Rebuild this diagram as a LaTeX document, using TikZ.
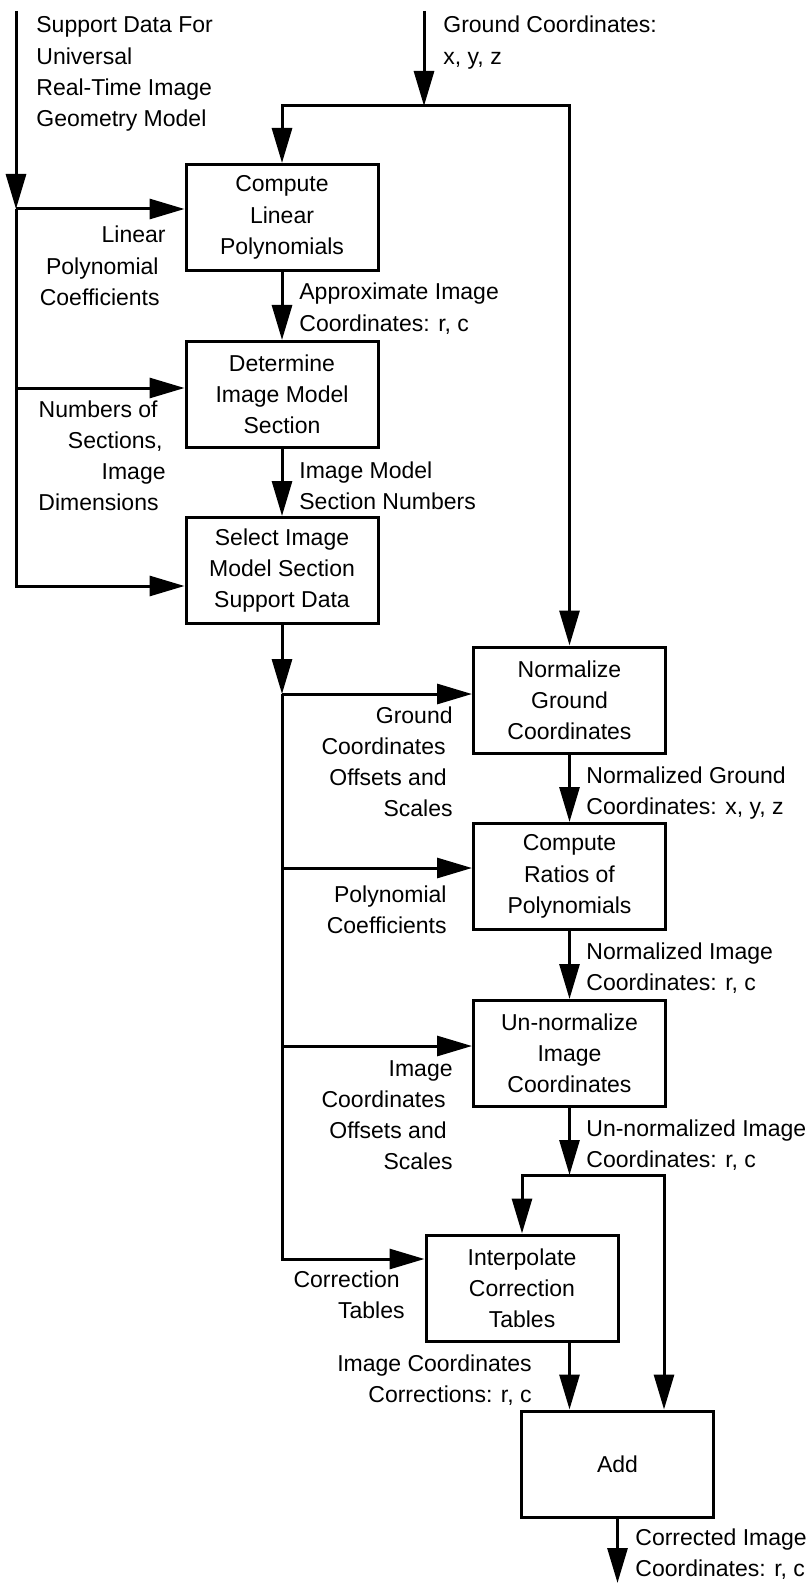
\documentclass[tikz,border=0pt]{standalone}
\usepackage{fontspec}
\setmainfont{Liberation Sans}
\usetikzlibrary{arrows.meta,calc}
\newcommand{\rlab}[1]{\begin{tabular}[t]{@{}r@{}}#1\end{tabular}}
\newcommand{\llab}[1]{\begin{tabular}[t]{@{}l@{}}#1\end{tabular}}
\begin{document}
\begin{tikzpicture}[x=0.5pt,y=-0.5pt,
  every node/.style={font=\fontsize{11.5pt}{15.6pt}\selectfont},
  proc/.style={draw, line width=1.5pt, minimum width=96pt, minimum height=53pt, align=center, inner sep=0pt},
  conn/.style={line width=1.5pt},
  arr/.style={conn, -{Triangle[length=17.5pt,width=10pt]}},
  rl/.style={anchor=base east, inner sep=0pt},
  ll/.style={anchor=base west, inner sep=0pt}]
\useasboundingbox (0,0) rectangle (812,1583);

% process boxes
\node[proc] (B1) at (282,217.5) {Compute\\Linear\\Polynomials};
\node[proc] (B2) at (282,394.5) {Determine\\Image Model\\Section};
\node[proc] (B3) at (282,570.5) {Select Image\\Model Section\\Support Data};
\node[proc] (N) at (569.5,700) {Normalize\\Ground\\Coordinates};
\node[proc] (R) at (569.5,876.5) {Compute\\Ratios of\\Polynomials};
\node[proc] (U) at (569.5,1053.5) {Un-normalize\\Image\\Coordinates};
\node[proc] (I) at (522,1288) {Interpolate\\Correction\\Tables};
\node[proc] (A) at (617.5,1464) {Add};

% junction coordinates
\coordinate (sIn) at (16,11);
\coordinate (j1) at (16,209);
\coordinate (j2) at (16,388);
\coordinate (j3) at (16,586);
\coordinate (gIn) at (424,11);
\coordinate (gJ) at (424,106);
\coordinate (gL) at (282,106);
\coordinate (gR) at (569.5,106);
\coordinate (k0) at (282,694);
\coordinate (k1) at (282,868);
\coordinate (k2) at (282,1046);
\coordinate (k3) at (282,1259);
\coordinate (m0) at (569.5,1175);
\coordinate (mL) at (522,1175);
\coordinate (mR) at (664,1175);
\coordinate (out) at (617.5,1583);

% left trunk
\draw[arr] (sIn) -- (j1);
\draw[arr] (j1) -- (j1 -| B1.west);
\draw[arr] (j2) -- (j2 -| B2.west);
\draw[arr] (j1) -- (j3) -- (j3 -| B3.west);

% ground input
\draw[arr] (gIn) -- (gJ);
\draw[arr] (gJ) -- (gL) -- (B1.north);
\draw[arr] (gJ) -- (gR) -- (N.north);

% left column chain
\draw[arr] (B1) -- (B2);
\draw[arr] (B2) -- (B3);
\draw[arr] (B3.south) -- (k0);

% second trunk
\draw[arr] (k0) -- (k0 -| N.west);
\draw[arr] (k1) -- (k1 -| R.west);
\draw[arr] (k2) -- (k2 -| U.west);
\draw[arr] (k0) -- (k3) -- (k3 -| I.west);

% right column chain
\draw[arr] (N) -- (R);
\draw[arr] (R) -- (U);
\draw[arr] (U.south) -- (m0);
\draw[arr] (m0) -- (mL) -- (I.north);
\draw[arr] (m0) -- (mR) -- (A.north -| mR);
\draw[arr] (I.south -| m0) -- (A.north -| m0);
\draw[arr] (A.south) -- (out);

% left-aligned labels
\node[ll] (tSup) at (36,33) {\llab{Support Data For\\Universal\\Real-Time Image\\Geometry Model}};
\node[ll] (tGnd) at (443,33) {\llab{Ground Coordinates:\\x, y, z}};
\node[ll] (tApx) at (299,300) {\llab{Approximate Image\\Coordinates: r, c}};
\node[ll] (tSec) at (299,478) {\llab{Image Model\\Section Numbers}};
\node[ll] (tNG) at (586,783) {\llab{Normalized Ground\\Coordinates: x, y, z}};
\node[ll] (tNI) at (586,959) {\llab{Normalized Image\\Coordinates: r, c}};
\node[ll] (tUI) at (586,1136) {\llab{Un-normalized Image\\Coordinates: r, c}};
\node[ll] (tCI) at (635,1545) {\llab{Corrected Image\\Coordinates: r, c}};

% right-aligned labels
\node[rl] (tLin) at (166,243) {\rlab{Linear\\Polynomial\hspace*{3.5pt}\\Coefficients\hspace*{3pt}}};
\node[rl] (tNum) at (166,417) {\rlab{Numbers of\hspace*{4pt}\\Sections,\hspace*{1.5pt}\\Image\\Dimensions\hspace*{3.5pt}}};
\node[rl] (tGO) at (453,723) {\rlab{Ground\\Coordinates\hspace*{3.5pt}\\Offsets and\hspace*{3pt}\\Scales}};
\node[rl] (tPC) at (447,902) {\rlab{Polynomial\\Coefficients}};
\node[rl] (tIO) at (453,1076) {\rlab{Image\\Coordinates\hspace*{3.5pt}\\Offsets and\hspace*{3pt}\\Scales}};
\node[rl] (tCT) at (405,1287) {\rlab{Correction\hspace*{2.5pt}\\Tables}};
\node[rl] (tIC) at (532,1371) {\rlab{Image Coordinates\\Corrections: r, c}};
\end{tikzpicture}
\end{document}
